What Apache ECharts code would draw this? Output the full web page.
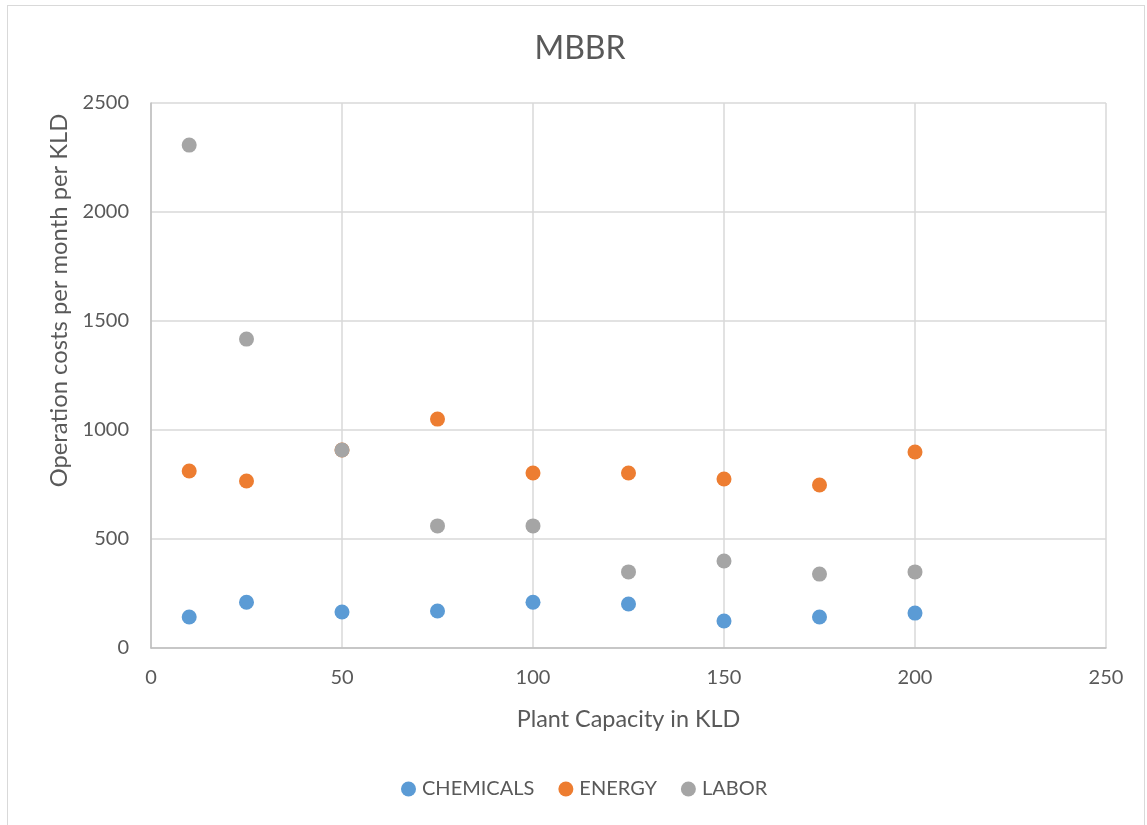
<!DOCTYPE html>
<html>
<head>
<meta charset="utf-8">
<script src="https://cdn.jsdelivr.net/npm/echarts@6/dist/echarts.min.js"></script>
<style>
  html, body { margin: 0; padding: 0; background: #ffffff; }
  #frame { position: absolute; left: 7px; top: 5px; width: 1138px; height: 830px; border: 1px solid #d9d9d9; box-sizing: border-box; }
  #chart { position: absolute; left: 0; top: 0; width: 1147px; height: 825px; }
</style>
</head>
<body>
<div id="frame"></div>
<div id="chart"></div>
<script>
// Plant capacities (KLD)
const capacity = [10, 25, 50, 75, 100, 125, 150, 175, 200];
// Operation costs per month per KLD
const chemicals = [142, 210, 165, 170, 210, 202, 124, 142, 160];
const energy = [812, 766, 908, 1050, 803, 803, 775, 748, 899];
const labor = [2307, 1417, 908, 560, 560, 349, 399, 339, 349];

const seriesNames = ['CHEMICALS', 'ENERGY', 'LABOR'];
const seriesColors = ['#5b9bd5', '#ed7d31', '#a5a5a5'];

const font = 'Lato, "Open Sans", sans-serif';
const textColor = '#595959';

function pairs(ys) { return capacity.map((x, i) => [x, ys[i]]); }

const chart = echarts.init(document.getElementById('chart'), null, { renderer: 'canvas' });
chart.setOption({
  backgroundColor: 'transparent',
  animation: false,
  title: {
    text: 'MBBR',
    left: 575, top: 28, textAlign: 'center',
    textStyle: { fontFamily: font, fontSize: 32, fontWeight: 'normal', color: textColor }
  },
  legend: {
    top: 774, left: 396,
    itemWidth: 15, itemHeight: 15, itemGap: 24,
    icon: 'circle',
    textStyle: { fontFamily: font, fontSize: 20, color: textColor, padding: [0, 0, 0, 1] },
    data: seriesNames
  },
  grid: { left: 151, top: 103, right: 41, bottom: 177 },
  xAxis: {
    type: 'value', min: 0, max: 250, interval: 50,
    name: 'Plant Capacity in KLD', nameLocation: 'middle', nameGap: 60,
    nameTextStyle: { fontFamily: font, fontSize: 23.4, color: textColor },
    axisLine: { show: true, lineStyle: { color: '#bfbfbf', width: 1.5 } },
    axisTick: { show: false },
    axisLabel: { fontFamily: font, fontSize: 20, color: textColor, margin: 20 },
    splitLine: { show: true, lineStyle: { color: '#d9d9d9', width: 1.5 } }
  },
  yAxis: {
    type: 'value', min: 0, max: 2500, interval: 500,
    name: 'Operation costs per month per KLD', nameLocation: 'middle', nameGap: 76,
    // left padding lifts the rotated title above the axis midpoint
    nameTextStyle: { fontFamily: font, fontSize: 23.8, color: textColor, padding: [0, 0, 0, 150] },
    axisLine: { show: true, lineStyle: { color: '#bfbfbf', width: 1.5 } },
    axisTick: { show: false },
    axisLabel: { fontFamily: font, fontSize: 20, color: textColor, margin: 22, formatter: v => String(v) },
    splitLine: { show: true, lineStyle: { color: '#d9d9d9', width: 1.5 } }
  },
  series: [chemicals, energy, labor].map((ys, i) => ({
    name: seriesNames[i],
    type: 'scatter',
    symbol: 'circle',
    symbolSize: 15,
    itemStyle: { color: seriesColors[i], opacity: 1 },
    data: pairs(ys)
  }))
});
</script>
</body>
</html>
